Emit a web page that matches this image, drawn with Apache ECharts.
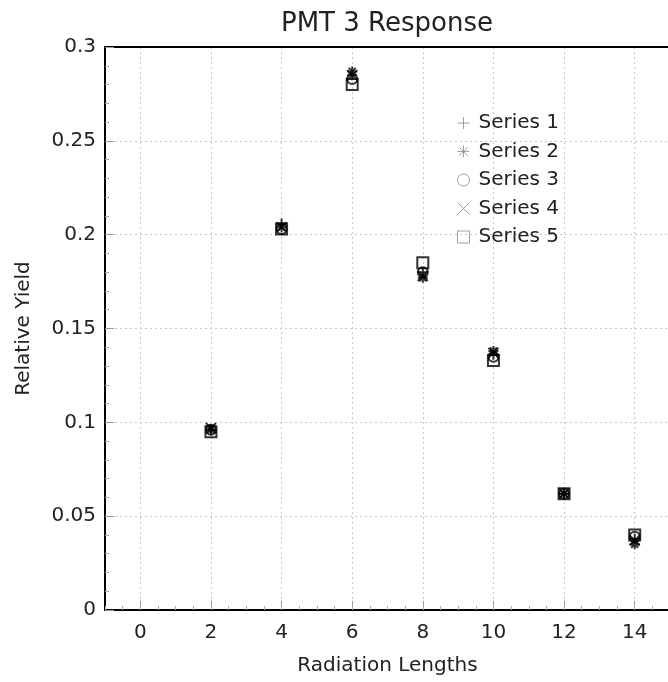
<!DOCTYPE html>
<html>
<head>
<meta charset="utf-8">
<title>PMT 3 Response</title>
<script src="https://cdn.jsdelivr.net/npm/echarts@6/dist/echarts.min.js"></script>
<style>
  html, body { margin: 0; padding: 0; background: #fff; }
  #chart { width: 668px; height: 682px; }
</style>
</head>
<body>
<div id="chart"></div>
<script>
// Radiation lengths at which the yield was measured
const radiationLengths = [2, 4, 6, 8, 10, 12, 14];

// Relative yield for each series
const series1 = [0.096, 0.206, 0.285, 0.180, 0.136, 0.062, 0.038];
const series2 = [0.096, 0.204, 0.287, 0.177, 0.138, 0.062, 0.035];
const series3 = [0.096, 0.203, 0.283, 0.180, 0.135, 0.062, 0.039];
const series4 = [0.097, 0.204, 0.285, 0.178, 0.137, 0.062, 0.037];
const series5 = [0.095, 0.203, 0.280, 0.185, 0.133, 0.062, 0.040];

const seriesNames = ['Series 1', 'Series 2', 'Series 3', 'Series 4', 'Series 5'];

// Labelled positions on the x axis
const xTickValues = [0, 2, 4, 6, 8, 10, 12, 14];

// Marker shapes: plus, asterisk, circle, cross, square
const symbols = [
  'path://M0,5L10,5M5,0L5,10',
  'path://M0,5L10,5M5,0L5,10M1.5,1.5L8.5,8.5M8.5,1.5L1.5,8.5',
  'circle',
  'path://M0,0L10,10M10,0L0,10',
  'rect'
];

const FONT = 'DejaVu Sans';
const TEXT = '#222';

const allSeries = [series1, series2, series3, series4, series5];

const chart = echarts.init(document.getElementById('chart'), null, { renderer: 'canvas' });

chart.setOption({
  backgroundColor: '#fff',
  animation: false,
  title: {
    text: 'PMT 3 Response',
    left: 276,
    top: 6,
    textStyle: { fontFamily: FONT, fontSize: 26, fontWeight: 'normal', color: TEXT }
  },
  legend: {
    orient: 'vertical',
    left: 452,
    top: 108,
    itemWidth: 12,
    itemHeight: 12,
    itemGap: 8.5,
    itemStyle: { borderColor: '#8a8a8a', borderWidth: 1 },
    textStyle: { fontFamily: FONT, fontSize: 20, lineHeight: 20, color: TEXT, padding: [0, 0, 0, 4] },
    data: seriesNames
  },
  grid: {
    left: 105,
    top: 47,
    right: -2,
    bottom: 72,
    outerBoundsMode: 'none'
  },
  xAxis: [
    {
      type: 'value',
      position: 'bottom',
      min: -1,
      max: 15,
      interval: 0.5,
      name: 'Radiation Lengths',
      nameLocation: 'middle',
      nameGap: 46,
      nameTextStyle: { fontFamily: FONT, fontSize: 20, color: TEXT },
      axisLine: { show: true, onZero: false, lineStyle: { color: '#000', width: 2 } },
      axisTick: { show: true, inside: true, length: 9, customValues: xTickValues, lineStyle: { color: '#999' } },
      axisLabel: { show: true, margin: 13, customValues: xTickValues, fontFamily: FONT, fontSize: 20, color: TEXT },
      splitLine: { show: true, lineStyle: { color: '#c8c8c8', type: [2, 3], width: 1 } }
    },
    {
      // short ticks every half unit along the bottom edge
      type: 'value',
      position: 'bottom',
      min: -1,
      max: 15,
      interval: 0.5,
      axisLine: { show: false, onZero: false },
      axisTick: { show: true, inside: true, length: 4, lineStyle: { color: '#aaa' } },
      axisLabel: { show: false },
      splitLine: { show: false }
    },
    {
      // frame line along the top
      type: 'value',
      position: 'top',
      min: -1,
      max: 15,
      axisLine: { show: true, onZero: false, lineStyle: { color: '#000', width: 2 } },
      axisTick: { show: false },
      axisLabel: { show: false },
      splitLine: { show: false }
    }
  ],
  yAxis: {
    type: 'value',
    min: 0,
    max: 0.3,
    interval: 0.05,
    name: 'Relative Yield',
    nameLocation: 'middle',
    nameGap: 71,
    nameTextStyle: { fontFamily: FONT, fontSize: 20, color: TEXT },
    axisLine: { show: true, onZero: false, lineStyle: { color: '#000', width: 2 } },
    axisTick: { show: true, inside: true, length: 9, lineStyle: { color: '#999' } },
    minorTick: { show: true, splitNumber: 5, length: 4, lineStyle: { color: '#aaa' } },
    axisLabel: { margin: 9, fontFamily: FONT, fontSize: 20, color: TEXT },
    splitLine: { show: true, lineStyle: { color: '#c8c8c8', type: [2, 3], width: 1 } }
  },
  series: allSeries.map((values, i) => ({
    name: seriesNames[i],
    type: 'scatter',
    xAxisIndex: 0,
    yAxisIndex: 0,
    symbol: symbols[i],
    symbolSize: i === 4 ? 11 : 10,
    itemStyle: { color: 'transparent', borderColor: '#000', borderWidth: 2 },
    emphasis: { disabled: true },
    data: radiationLengths.map((x, j) => [x, values[j]])
  }))
});
</script>
</body>
</html>
